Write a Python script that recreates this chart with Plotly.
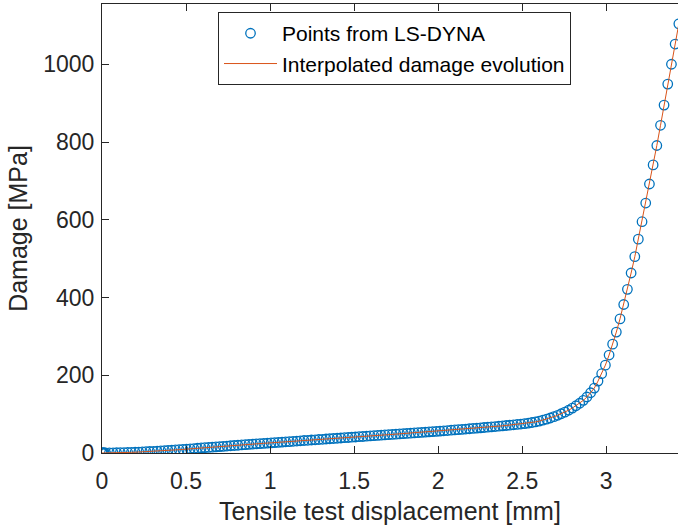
import plotly.graph_objects as go

# Displacement [mm] of the LS-DYNA points
disp = [0.000, 0.003, 0.006, 0.010, 0.015,
        0.022, 0.044, 0.066, 0.087, 0.109, 0.131, 0.153, 0.175, 0.197,
        0.219, 0.240, 0.262, 0.284, 0.306, 0.328, 0.350, 0.372, 0.393, 0.415,
        0.437, 0.459, 0.481, 0.503, 0.525, 0.547, 0.568, 0.590, 0.612, 0.634,
        0.656, 0.678, 0.700, 0.721, 0.743, 0.765, 0.787, 0.809, 0.831, 0.853,
        0.874, 0.896, 0.918, 0.940, 0.962, 0.984, 1.006, 1.027, 1.049, 1.071,
        1.093, 1.115, 1.137, 1.159, 1.180, 1.202, 1.224, 1.246, 1.268, 1.290,
        1.312, 1.333, 1.355, 1.377, 1.399, 1.421, 1.443, 1.465, 1.486, 1.508,
        1.530, 1.552, 1.574, 1.596, 1.618, 1.640, 1.661, 1.683, 1.705, 1.727,
        1.749, 1.771, 1.793, 1.814, 1.836, 1.858, 1.880, 1.902, 1.924, 1.946,
        1.967, 1.989, 2.011, 2.033, 2.055, 2.077, 2.099, 2.120, 2.142, 2.164,
        2.186, 2.208, 2.230, 2.252, 2.273, 2.295, 2.317, 2.339, 2.361, 2.383,
        2.405, 2.426, 2.448, 2.470, 2.492, 2.514, 2.536, 2.558, 2.579, 2.601,
        2.623, 2.645, 2.667, 2.689, 2.711, 2.732, 2.754, 2.776, 2.798, 2.820,
        2.842, 2.864, 2.885, 2.907, 2.929, 2.951, 2.973, 2.995, 3.017, 3.038,
        3.060, 3.082, 3.104, 3.126, 3.148, 3.170, 3.191, 3.213, 3.235, 3.257,
        3.279, 3.301, 3.323, 3.344, 3.366, 3.388, 3.410, 3.432]

# Damage [MPa]
damage = [0.0, 0.0, 0.0, 0.0, 0.05,
          0.1, 0.3, 0.5, 0.7, 0.9, 1.1, 1.4, 1.7, 2.0,
          2.4, 2.9, 3.4, 3.9, 4.4, 5.0, 5.5, 6.1, 6.6, 7.2,
          7.9, 8.5, 9.2, 10.0, 10.7, 11.5, 12.2, 13.0, 13.7, 14.4,
          15.1, 15.8, 16.5, 17.2, 17.9, 18.6, 19.3, 20.0, 20.7, 21.5,
          22.2, 22.9, 23.6, 24.2, 24.9, 25.5, 26.2, 26.8, 27.5, 28.1,
          28.8, 29.4, 30.1, 30.8, 31.4, 32.1, 32.7, 33.4, 34.0, 34.7,
          35.3, 36.0, 36.6, 37.3, 37.9, 38.6, 39.3, 39.9, 40.6, 41.2,
          41.9, 42.5, 43.2, 43.9, 44.5, 45.2, 45.8, 46.5, 47.1, 47.8,
          48.5, 49.1, 49.8, 50.4, 51.1, 51.7, 52.4, 53.1, 53.7, 54.4,
          55.0, 55.7, 56.4, 57.1, 57.8, 58.6, 59.3, 60.0, 60.8, 61.6,
          62.4, 63.2, 64.0, 64.8, 65.6, 66.4, 67.3, 68.1, 69.0, 69.9,
          70.8, 71.7, 72.6, 73.4, 74.5, 75.7, 77.0, 78.4, 80.0, 82.0,
          84.5, 87.0, 90.0, 93.5, 97.0, 101.0, 105.0, 110.0, 115.5, 121.5,
          128.0, 135.5, 144.0, 155.0, 167.0, 185.0, 204.0, 226.0, 252.0, 280.0,
          311.0, 345.0, 382.0, 421.0, 463.0, 505.0, 550.0, 595.0, 643.0, 692.0,
          741.0, 791.0, 843.0, 895.0, 949.0, 1000.0, 1052.0, 1104.0]

x_ticks = [0, 0.5, 1, 1.5, 2, 2.5, 3]
x_tick_labels = ["0", "0.5", "1", "1.5", "2", "2.5", "3"]
y_ticks = [0, 200, 400, 600, 800, 1000]
y_tick_labels = ["0", "200", "400", "600", "800", "1000"]

FONT = "Liberation Sans, Arial, Helvetica, sans-serif"
AX = "#262626"

fig = go.Figure()
fig.add_trace(go.Scatter(
    x=disp, y=damage, mode="markers", name="Points from LS-DYNA",
    marker=dict(symbol="circle-open", size=9.5, color="#0072BD",
                line=dict(width=1.3, color="#0072BD")),
))
fig.add_trace(go.Scatter(
    x=disp, y=damage, mode="lines", name="Interpolated damage evolution",
    line=dict(color="#D95319", width=1),
))

fig.update_layout(
    width=678, height=529,
    margin=dict(l=102, r=0, t=4, b=76),
    paper_bgcolor="white", plot_bgcolor="white",
    font=dict(family=FONT, size=23, color=AX),
    showlegend=True,
    legend=dict(
        x=0.2014, y=0.982, xanchor="left", yanchor="top",
        bgcolor="white", bordercolor=AX, borderwidth=1,
        font=dict(family=FONT, size=21, color="#000000"),
        itemwidth=53, tracegroupgap=0,
    ),
    xaxis=dict(
        range=[0, 3.427], tickvals=x_ticks, ticktext=x_tick_labels,
        ticks="inside", ticklen=7, tickcolor=AX, tickwidth=1,
        showline=True, linecolor=AX, linewidth=1, mirror="ticks",
        showgrid=False, zeroline=False,
        tickfont=dict(family=FONT, size=23, color=AX),
        ticklabelstandoff=7,
        title=dict(text="Tensile test displacement [mm]",
                   font=dict(family=FONT, size=25, color=AX), standoff=9),
    ),
    yaxis=dict(
        range=[0, 1155], tickvals=y_ticks, ticktext=y_tick_labels,
        ticks="inside", ticklen=7, tickcolor=AX, tickwidth=1,
        showline=True, linecolor=AX, linewidth=1, mirror=False,
        showgrid=False, zeroline=False,
        tickfont=dict(family=FONT, size=23, color=AX),
        ticklabelstandoff=2,
        title=dict(text="Damage [MPa]",
                   font=dict(family=FONT, size=25, color=AX), standoff=8),
    ),
)

fig.write_html("out.html")
